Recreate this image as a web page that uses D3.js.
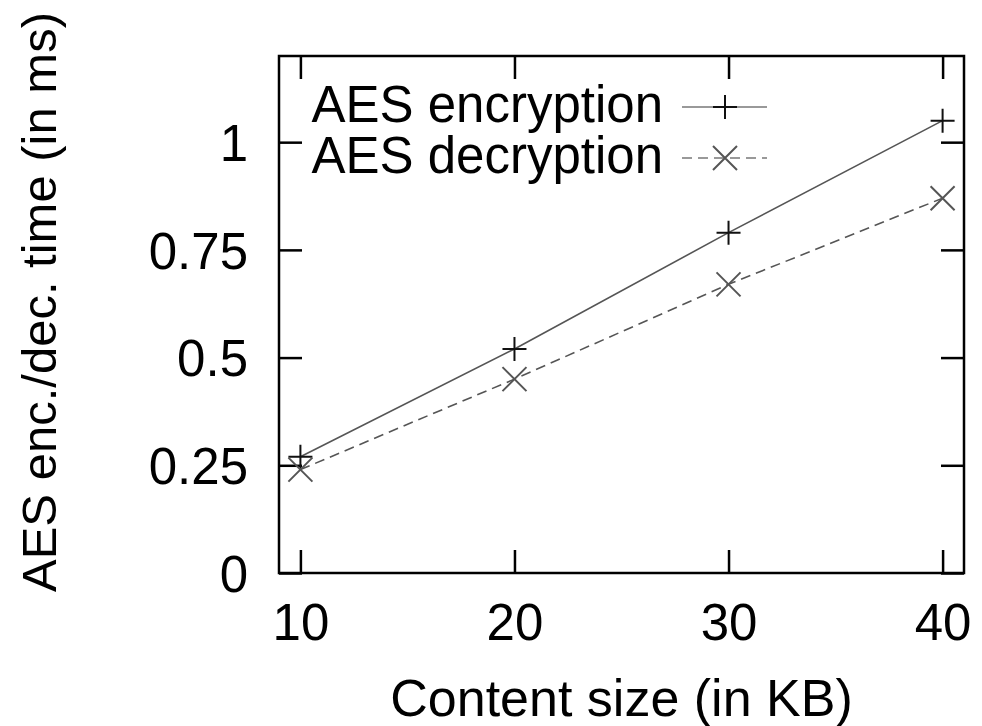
<!DOCTYPE html>
<html>
<head>
<meta charset="utf-8">
<script src="https://cdn.jsdelivr.net/npm/d3@7"></script>
<style>
  html, body { margin: 0; padding: 0; background: #fff; }
  svg text { font-family: "Liberation Sans", Arial, sans-serif; fill: #000; }
</style>
</head>
<body>
<svg id="chart" width="982" height="726"></svg>
<script>
// values
const sizes = [10, 20, 30, 40];              // content size (KB)
const encTime = [0.27, 0.52, 0.79, 1.05];    // AES encryption (ms)
const decTime = [0.24, 0.45, 0.67, 0.87];    // AES decryption (ms)
const yTicks = [0, 0.25, 0.5, 0.75, 1];
const yTickLabels = ["0", "0.25", "0.5", "0.75", "1"];
const seriesNames = ["AES encryption", "AES decryption"];

const svg = d3.select("#chart");
const margin = { top: 56, right: 18, bottom: 153, left: 279 };
const width = +svg.attr("width") - margin.left - margin.right;
const height = +svg.attr("height") - margin.top - margin.bottom;
const fontSize = 51;
const tick = 23;

const g = svg.append("g").attr("transform", `translate(${margin.left},${margin.top})`);

const x = d3.scaleLinear().domain([9, 41]).range([0, width]);
const y = d3.scaleLinear().domain([0, 1.2]).range([height, 0]);

// ticks on all four sides, pointing inward
function styleAxis(sel) {
  sel.select(".domain").remove();
  sel.selectAll(".tick line").attr("stroke", "#000").attr("stroke-width", 2.5);
  sel.selectAll(".tick text").style("font-size", fontSize + "px");
}

g.append("g")
  .attr("transform", `translate(0,${height})`)
  .call(d3.axisBottom(x).tickValues(sizes).tickSize(-tick).tickPadding(31))
  .call(styleAxis);

g.append("g")
  .call(d3.axisTop(x).tickValues(sizes).tickSize(-tick).tickFormat(""))
  .call(styleAxis);

g.append("g")
  .call(d3.axisLeft(y).tickValues(yTicks).tickSize(-tick).tickPadding(31)
    .tickFormat((d, i) => yTickLabels[i]))
  .call(styleAxis)
  .selectAll(".tick text").attr("dy", "0.36em");

g.append("g")
  .attr("transform", `translate(${width},0)`)
  .call(d3.axisRight(y).tickValues(yTicks).tickSize(-tick).tickFormat(""))
  .call(styleAxis);

g.append("rect")
  .attr("width", width).attr("height", height)
  .attr("fill", "none").attr("stroke", "#000").attr("stroke-width", 2.5);

// axis titles
svg.append("text")
  .attr("x", margin.left + width / 2).attr("y", 716)
  .attr("text-anchor", "middle")
  .style("font-size", "52px")
  .text("Content size (in KB)");

svg.append("text")
  .attr("transform", "translate(56,302) rotate(-90)")
  .attr("text-anchor", "middle")
  .style("font-size", "49px")
  .text("AES enc./dec. time (in ms)");

// lines
const line = d3.line().x(d => x(d[0])).y(d => y(d[1]));
const encPts = sizes.map((s, i) => [s, encTime[i]]);
const decPts = sizes.map((s, i) => [s, decTime[i]]);

g.append("path").datum(encPts).attr("d", line)
  .attr("fill", "none").attr("stroke", "#555").attr("stroke-width", 1.6);
g.append("path").datum(decPts).attr("d", line)
  .attr("fill", "none").attr("stroke", "#555").attr("stroke-width", 1.6)
  .attr("stroke-dasharray", "10,6");

const m = 12;
function plus(sel) {
  sel.append("path")
    .attr("d", `M${-m},0H${m}M0,${-m}V${m}`)
    .attr("stroke", "#111").attr("stroke-width", 2).attr("fill", "none");
}
function cross(sel) {
  sel.append("path")
    .attr("d", `M${-m},${-m}L${m},${m}M${-m},${m}L${m},${-m}`)
    .attr("stroke", "#555").attr("stroke-width", 2).attr("fill", "none");
}

g.selectAll(".enc").data(encPts).enter().append("g")
  .attr("transform", d => `translate(${x(d[0])},${y(d[1])})`)
  .call(plus);
g.selectAll(".dec").data(decPts).enter().append("g")
  .attr("transform", d => `translate(${x(d[0])},${y(d[1])})`)
  .call(cross);

// legend
const legend = svg.append("g");
const rows = [
  { name: seriesNames[0], cy: 107, dash: null, mark: plus },
  { name: seriesNames[1], cy: 158, dash: "10,6", mark: cross }
];
rows.forEach(r => {
  legend.append("text")
    .attr("x", 663).attr("y", r.cy + 15)
    .attr("text-anchor", "end")
    .style("font-size", fontSize + "px")
    .text(r.name);
  legend.append("line")
    .attr("x1", 682).attr("x2", 767).attr("y1", r.cy).attr("y2", r.cy)
    .attr("stroke", "#999").attr("stroke-width", 2.2)
    .attr("stroke-dasharray", r.dash);
  legend.append("g").attr("transform", `translate(725,${r.cy})`).call(r.mark);
});
</script>
</body>
</html>
